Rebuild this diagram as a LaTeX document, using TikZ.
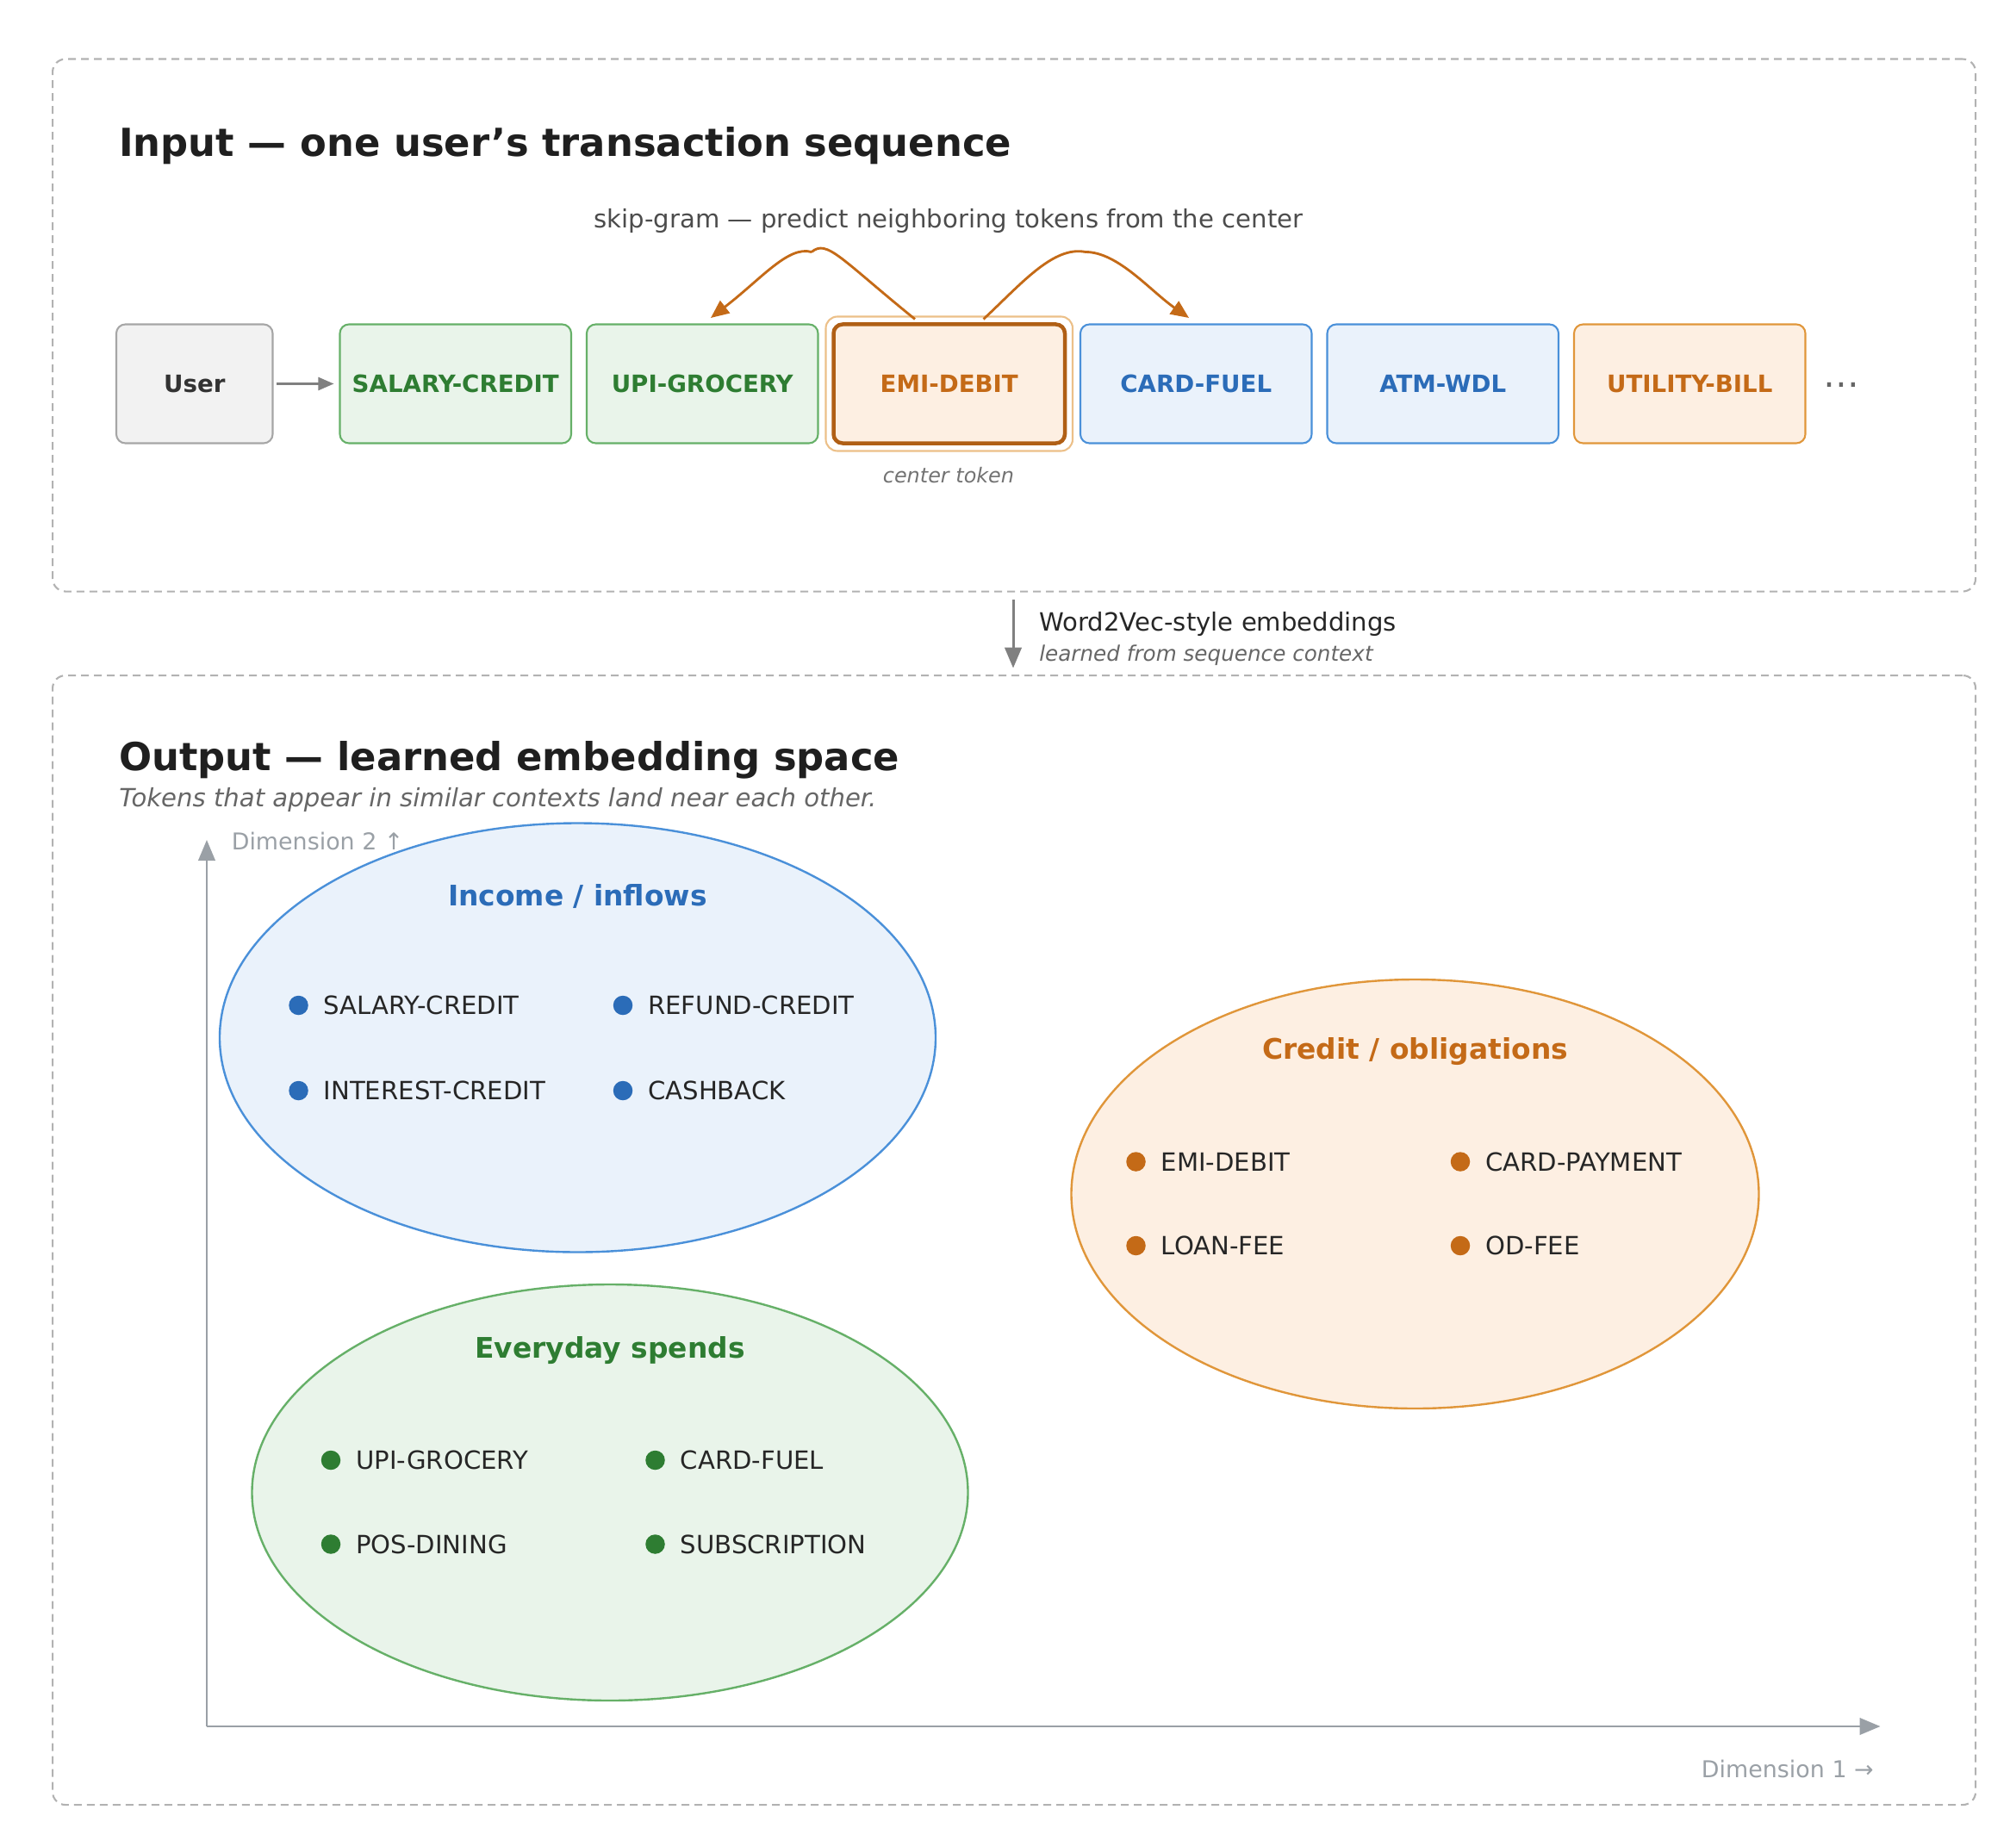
\documentclass[tikz,border=0pt]{standalone}
\usepackage{fontspec}
\setmainfont{DejaVu Sans}
\usetikzlibrary{arrows.meta}
\definecolor{bfill}{HTML}{EAF2FB}\definecolor{bdraw}{HTML}{4A90D9}\definecolor{btext}{HTML}{2B6CB8}
\definecolor{gfill}{HTML}{E9F4EA}\definecolor{gdraw}{HTML}{66B068}\definecolor{gtext}{HTML}{2E7D32}
\definecolor{ofill}{HTML}{FDEFE2}\definecolor{odraw}{HTML}{E0963A}\definecolor{otext}{HTML}{C46A17}
\definecolor{axis}{HTML}{9AA0A6}
\begin{document}
\begin{tikzpicture}[x=1bp,y=-1bp,
 panel/.style={draw=black!30,dash pattern=on 6bp off 4bp,line width=1.4bp,rounded corners=10bp},
 tok/.style={rounded corners=7bp,line width=1.4bp,minimum width=179bp,minimum height=92bp,font=\fontsize{18.5}{21}\selectfont\bfseries,inner sep=0pt},
 dot/.style={circle,inner sep=0pt,minimum size=15bp},
 item/.style={anchor=west,font=\fontsize{19.5}{22}\selectfont,text=black!85},
 ctitle/.style={font=\fontsize{22}{25}\selectfont\bfseries},
 ell/.style={line width=1.6bp}]
\useasboundingbox (0,0) rectangle (1560,1410);
\node[panel,minimum width=1488bp,minimum height=412bp,anchor=north west] (top) at (40,45) {};
\node[panel,minimum width=1488bp,minimum height=874bp,anchor=north west] (bot) at (40,522) {};
\node[anchor=west,font=\fontsize{30}{34}\selectfont\bfseries,text=black!88,inner sep=0pt] (t1) at (92,113) {Input — one user’s transaction sequence};
\node[font=\fontsize{19.5}{22}\selectfont,text=black!70] (sg) at (734,171) {skip-gram — predict neighboring tokens from the center};
\node[tok,fill=black!5,draw=black!35,minimum width=121bp,text=black!80] (user) at (150.5,297) {User};
\node[tok,fill=gfill,draw=gdraw,text=gtext] (s1) at (352.5,297) {SALARY-CREDIT};
\node[tok,fill=gfill,draw=gdraw,text=gtext] (s2) at (543.5,297) {UPI-GROCERY};
\node[rounded corners=9bp,draw=odraw!60,line width=1.4bp,minimum width=191bp,minimum height=104bp] (halo) at (734.5,297) {};
\node[tok,fill=ofill,draw=otext!90!black,line width=3bp,text=otext] (s3) at (734.5,297) {EMI-DEBIT};
\node[tok,fill=bfill,draw=bdraw,text=btext] (s4) at (925.5,297) {CARD-FUEL};
\node[tok,fill=bfill,draw=bdraw,text=btext] (s5) at (1116.5,297) {ATM-WDL};
\node[tok,fill=ofill,draw=odraw,text=otext] (s6) at (1307.5,297) {UTILITY-BILL};
\node[font=\fontsize{28}{30}\selectfont,text=black!60] (dots) at (1425,298) {\dots};
\draw[-{Triangle[length=12bp,width=10bp]},line width=1.6bp,black!50] (user.east)++(2,0) -- ([xshift=-4bp]s1.west);
\coordinate (a1) at (708,247);\coordinate (a2) at (550,246);\coordinate (a3) at (761,247);\coordinate (a4) at (920,246);
\draw[-{Triangle[length=14bp,width=12bp]},line width=1.9bp,otext] (a1) .. controls (650,200) and (640,185) .. (628,195) (628,195) .. controls (610,190) and (590,215) .. (a2);
\draw[-{Triangle[length=14bp,width=12bp]},line width=1.9bp,otext] (a3) .. controls (790,220) and (815,190) .. (840,195) .. controls (865,195) and (890,225) .. (a4);
\node[font=\fontsize{16}{18}\selectfont\itshape,text=black!55] (ct) at (734,368) {center token};
\coordinate (d1) at (784,464);\coordinate (d2) at (784,517);
\draw[-{Triangle[length=16bp,width=13bp]},line width=2bp,black!50] (d1) -- (d2);
\node[anchor=west,font=\fontsize{19.5}{22}\selectfont,text=black!85,inner sep=0pt] (w1) at (804,483) {Word2Vec-style embeddings};
\node[anchor=west,font=\fontsize{16.5}{19}\selectfont\itshape,text=black!60,inner sep=0pt] (w2) at (804,507) {learned from sequence context};
\node[anchor=west,font=\fontsize{30}{34}\selectfont\bfseries,text=black!88,inner sep=0pt] (t2) at (92,588) {Output — learned embedding space};
\node[anchor=west,font=\fontsize{19.5}{22}\selectfont\itshape,text=black!60,inner sep=0pt] (t3) at (92,619) {Tokens that appear in similar contexts land near each other.};
\coordinate (o) at (160,1336);\coordinate (ya) at (160,650);\coordinate (xa) at (1455,1336);
\draw[-{Triangle[length=16bp,width=13bp]},line width=1.6bp,axis] (o) -- (ya);
\draw[-{Triangle[length=16bp,width=13bp]},line width=1.6bp,axis] (o) -- (xa);
\node[anchor=west,font=\fontsize{18}{21}\selectfont,text=axis,inner sep=0pt] (d2l) at (179,651) {Dimension 2 ↑};
\node[anchor=east,font=\fontsize{18}{21}\selectfont,text=axis,inner sep=0pt] (d1l) at (1450,1369) {Dimension 1 →};
% blue
\draw[ell,fill=bfill,draw=bdraw] (447,803) ellipse [x radius=277,y radius=166];
\node[ctitle,text=btext] at (447,694) {Income / inflows};
\foreach \x/\y/\t in {231/778/SALARY-CREDIT,482/778/REFUND-CREDIT,231/844/INTEREST-CREDIT,482/844/CASHBACK}{
 \node[dot,fill=btext] at (\x,\y) {}; \node[item] at (\x+16,\y) {\t};}
% orange
\draw[ell,fill=ofill,draw=odraw] (1095,924) ellipse [x radius=266,y radius=166];
\node[ctitle,text=otext] at (1095,814) {Credit / obligations};
\foreach \x/\y/\t in {879/899/EMI-DEBIT,1130/899/CARD-PAYMENT,879/964/LOAN-FEE,1130/964/OD-FEE}{
 \node[dot,fill=otext] at (\x,\y) {}; \node[item] at (\x+16,\y) {\t};}
% green
\draw[ell,fill=gfill,draw=gdraw] (472,1155) ellipse [x radius=277,y radius=161];
\node[ctitle,text=gtext] at (472,1045) {Everyday spends};
\foreach \x/\y/\t in {256/1130/UPI-GROCERY,507/1130/CARD-FUEL,256/1195/POS-DINING,507/1195/SUBSCRIPTION}{
 \node[dot,fill=gtext] at (\x,\y) {}; \node[item] at (\x+16,\y) {\t};}
\end{tikzpicture}
\end{document}
